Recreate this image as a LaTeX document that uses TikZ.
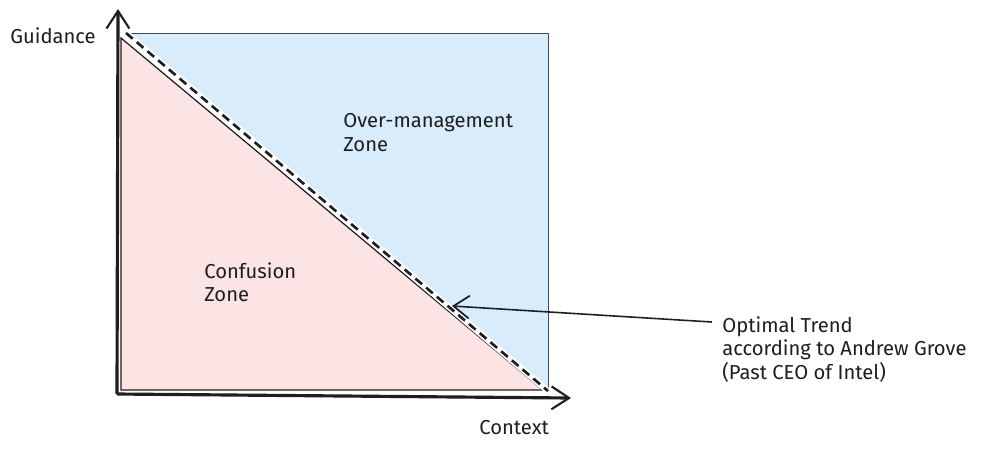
\documentclass[tikz,border=0pt]{standalone}
\usepackage{fontspec}
\setmainfont{Fira Sans}
\usetikzlibrary{arrows.meta}
\definecolor{bluefill}{HTML}{D8ECFB}
\definecolor{pinkfill}{HTML}{FCE3E4}
\definecolor{ink}{HTML}{1E1E1E}
\definecolor{blueedge}{HTML}{3A4A5E}
\tikzset{
  axis/.style={draw=ink, line width=1.8pt, -{Straight Barb[length=10pt,width=13pt,line width=1.2pt]}},
  lbl/.style={text=ink, font=\fontsize{11.5}{13.5}\selectfont, inner sep=0pt, align=left},
  pointer/.style={draw=ink, line width=0.9pt, -{Straight Barb[length=9pt,width=13pt,line width=1pt]}},
}
\begin{document}
\begin{tikzpicture}[x=0.02cm,y=-0.02cm]
\useasboundingbox[fill=white] (0,0) rectangle (1000,451);
% named coordinates
\coordinate (O) at (117,394);
\coordinate (Ytop) at (118,9);
\coordinate (Xend) at (571,398);
\coordinate (b1) at (126,33);
\coordinate (b2) at (548,33);
\coordinate (b3) at (548,391);
\coordinate (r1) at (121,38);
\coordinate (r2) at (121,390);
\coordinate (r3) at (543,390);
% zones
\fill[bluefill] (b1) -- (b2) -- (b3) -- cycle;
\draw[blueedge, line width=0.5pt] (b1) -- (b2) -- (b3);
\fill[pinkfill] (r1) -- (r2) -- (r3) -- cycle;
\draw[ink, line width=0.7pt] (r3) -- (r1) -- (r2) -- (r3);
% optimal trend line
\draw[white, line width=3.5pt] (b1) -- (b3);
\draw[ink, line width=1.5pt, dash pattern=on 5pt off 3pt] (b1) -- (b3);
% axes
\draw[axis] (O) -- (Ytop);
\draw[axis] (O) -- (Xend);
% labels
\node[lbl, anchor=west] (guid) at (10,36) {Guidance};
\node[lbl, anchor=west] (ctx) at (479,428) {Context};
\node[lbl, anchor=north west] (over) at (343,113) {Over-management\\Zone};
\node[lbl, anchor=north west] (conf) at (204,262) {Confusion\\Zone};
\node[lbl, anchor=north west] (opt) at (722,316) {Optimal Trend\\according to Andrew Grove\\(Past CEO of Intel)};
\coordinate (tip) at (452,306);
\draw[pointer] (opt.west |- 0,322) ++(-10,0) coordinate (tail) (tail) -- (tip);
\end{tikzpicture}
\end{document}
